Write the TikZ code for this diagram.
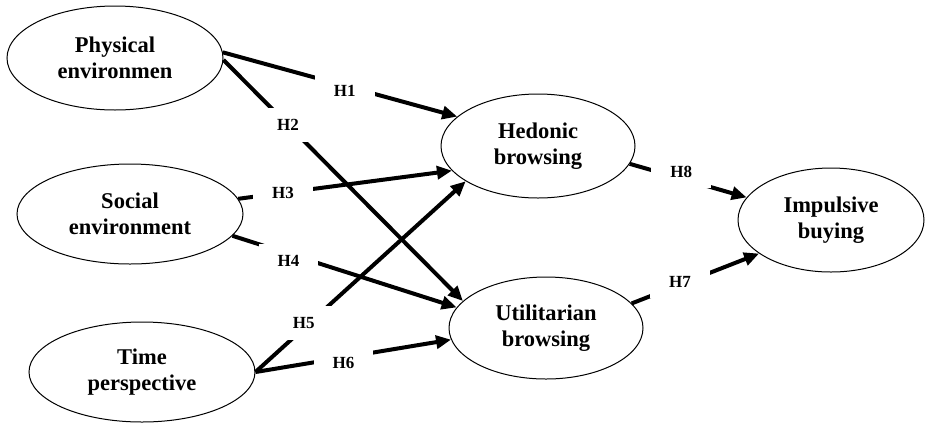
\documentclass[tikz,border=0pt]{standalone}
\usepackage{fontspec}
\setmainfont{Liberation Serif}
\usetikzlibrary{shapes.geometric, positioning}
\usetikzlibrary{arrows.meta}
\tikzset{>={Triangle[width=13pt,length=15pt]}}

\begin{document}
\begin{tikzpicture}[x=1pt, y=-1pt, construct/.style={ellipse, draw=black, line width=1pt, align=center, inner sep=0pt, font=\fontsize{22.5}{26}\selectfont\bfseries}, link/.style={->, line width=4pt}, hyp/.style={fill=white, inner xsep=19pt, inner ysep=11pt, font=\fontsize{17}{20}\selectfont\bfseries}]

    \useasboundingbox (0,0) rectangle (925,424);

    %Nodes
    \node[construct, minimum width=216pt, minimum height=104pt](physical) at (115,58){Physical\\environmen};
    \node[construct, minimum width=226pt, minimum height=100pt](social)[below=53pt of physical, xshift=15pt]{Social\\environment};
    \node[construct, minimum width=226pt, minimum height=100pt](time)[below=57pt of social, xshift=12pt]{Time\\perspective};
    \node[construct, minimum width=194pt, minimum height=104pt](hedonic) at (538,146){Hedonic\\browsing};
    \node[construct, minimum width=194pt, minimum height=102pt](utilitarian)[below=78pt of hedonic, xshift=8pt]{Utilitarian\\browsing};
    \node[construct, minimum width=186pt, minimum height=104pt](impulsive) at (831,220){Impulsive\\buying};

    %Lines
    \draw[link] (physical.3) -- node[hyp, pos=0.52, yshift=-5pt]{H1} (hedonic.160);
    \draw[link] (physical.-1) -- node[hyp, pos=0.27]{H2} (utilitarian.162);
    \draw[link] (social.8) -- node[hyp, pos=0.21]{H3} (hedonic.196);
    \draw[link] (social.-12) -- node[hyp, pos=0.25, yshift=-7pt]{H4} (utilitarian.167);
    \draw[link] (time.east) -- node[hyp, pos=0.23, yshift=5pt]{H5} (hedonic.206);
    \draw[link] (time.east) -- node[hyp, pos=0.45, yshift=-5pt]{H6} (utilitarian.187);
    \draw[link] (utilitarian.16) -- node[hyp, pos=0.38, yshift=3pt]{H7} (impulsive.205);
    \draw[link] (hedonic.-11) -- node[hyp, pos=0.44, yshift=7pt]{H8} (impulsive.165);

\end{tikzpicture}
\end{document}
